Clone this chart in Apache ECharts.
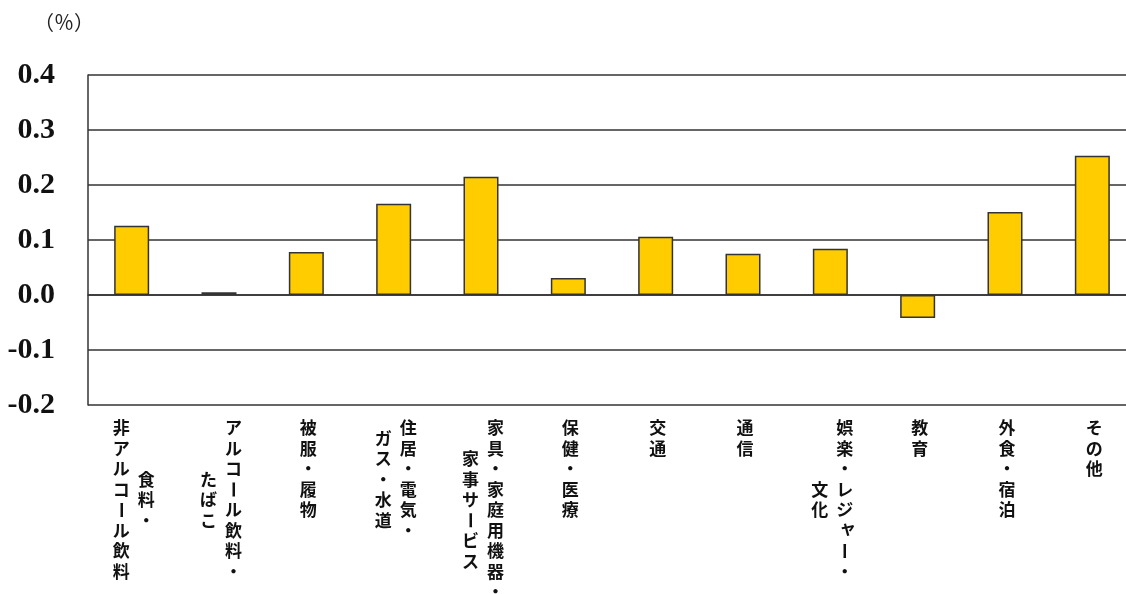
<!DOCTYPE html>
<html>
<head>
<meta charset="utf-8">
<style>
  html, body { margin: 0; padding: 0; background: #fff; overflow: hidden; }
  /* the plot runs slightly past the right edge of the window */
  #chart { width: 1136px; height: 594px; }
</style>
<script src="https://cdn.jsdelivr.net/npm/echarts@6/dist/echarts.min.js"></script>
</head>
<body>
<div id="chart"></div>
<script>
// Category names, written as vertical columns (first column is the rightmost one)
const labelColumns = [
  ['食料・', '非アルコール飲料'],
  ['アルコール飲料・', 'たばこ'],
  ['被服・履物'],
  ['住居・電気・', 'ガス・水道'],
  ['家具・家庭用機器・', '家事サービス'],
  ['保健・医療'],
  ['交通'],
  ['通信'],
  ['娯楽・レジャー・', '文化'],
  ['教育'],
  ['外食・宿泊'],
  ['その他']
];
const categories = labelColumns.map(cols => cols.join(''));

// Contribution of each category (%)
const values = [0.126, 0.005, 0.078, 0.166, 0.215, 0.031, 0.106, 0.075, 0.084, -0.042, 0.151, 0.253];

// Value axis range and step
const yMin = -0.2;
const yMax = 0.4;
const yStep = 0.1;

const chart = echarts.init(document.getElementById('chart'));

const LINE = '#333';
const CJK = '"Noto Sans CJK JP", sans-serif';

// Draws each category name as vertical Japanese text under its bar
function renderVerticalLabel(params, api) {
  const idx = api.value(0);
  const base = api.coord([idx, yMin]);
  const cols = labelColumns[idx];
  const colGap = 25;
  const rowH = 20.5;
  const maxLen = Math.max(...cols.map(c => c.length));
  const children = [];
  cols.forEach((col, ci) => {
    const cx = base[0] + 2 + (cols.length - 1) / 2 * colGap - ci * colGap;
    const startOffset = (maxLen - col.length) / 2 * rowH;
    Array.from(col).forEach((ch, k) => {
      let x = cx;
      let y = base[1] + 23 + startOffset + k * rowH;
      let rotation = 0;
      if (ch === 'ー') rotation = -Math.PI / 2;
      if ('ャュョッァィゥェォ'.indexOf(ch) >= 0) { x += 3; y -= 3; }
      children.push({
        type: 'text',
        x: x,
        y: y,
        rotation: rotation,
        style: {
          text: ch,
          fill: '#111',
          font: 'bold 17px ' + CJK,
          align: 'center',
          verticalAlign: 'middle'
        }
      });
    });
  });
  return { type: 'group', children: children };
}

chart.setOption({
  animation: false,
  title: {
    text: '（％）',
    left: 34,
    top: 12,
    padding: 0,
    textStyle: {
      fontFamily: CJK,
      fontWeight: 'normal',
      fontSize: 20,
      color: '#222'
    }
  },
  grid: {
    left: 88,
    right: 0,
    top: 75,
    bottom: 189,
    containLabel: false
  },
  xAxis: {
    type: 'category',
    data: categories,
    axisLine: { show: true, onZero: true, lineStyle: { color: LINE, width: 1.5 } },
    axisTick: { show: false },
    axisLabel: { show: false },
    splitLine: { show: false }
  },
  yAxis: {
    type: 'value',
    min: yMin,
    max: yMax,
    interval: yStep,
    axisLine: { show: true, lineStyle: { color: LINE, width: 1.5 } },
    axisTick: { show: false },
    splitLine: { show: true, lineStyle: { color: LINE, width: 1.5 } },
    axisLabel: {
      margin: 33,
      padding: [3, 0, 0, 0],
      formatter: v => v.toFixed(1),
      fontFamily: '"Liberation Serif", "Times New Roman", serif',
      fontWeight: 'bold',
      fontSize: 30,
      color: '#111'
    }
  },
  series: [
    {
      type: 'bar',
      data: values,
      barWidth: 35,
      itemStyle: {
        color: '#FFCC00',
        borderColor: LINE,
        borderWidth: 1.5
      }
    },
    {
      type: 'custom',
      data: categories.map((c, i) => [i, yMin]),
      renderItem: renderVerticalLabel,
      clip: false,
      silent: true,
      z: 5
    }
  ]
});
</script>
</body>
</html>
